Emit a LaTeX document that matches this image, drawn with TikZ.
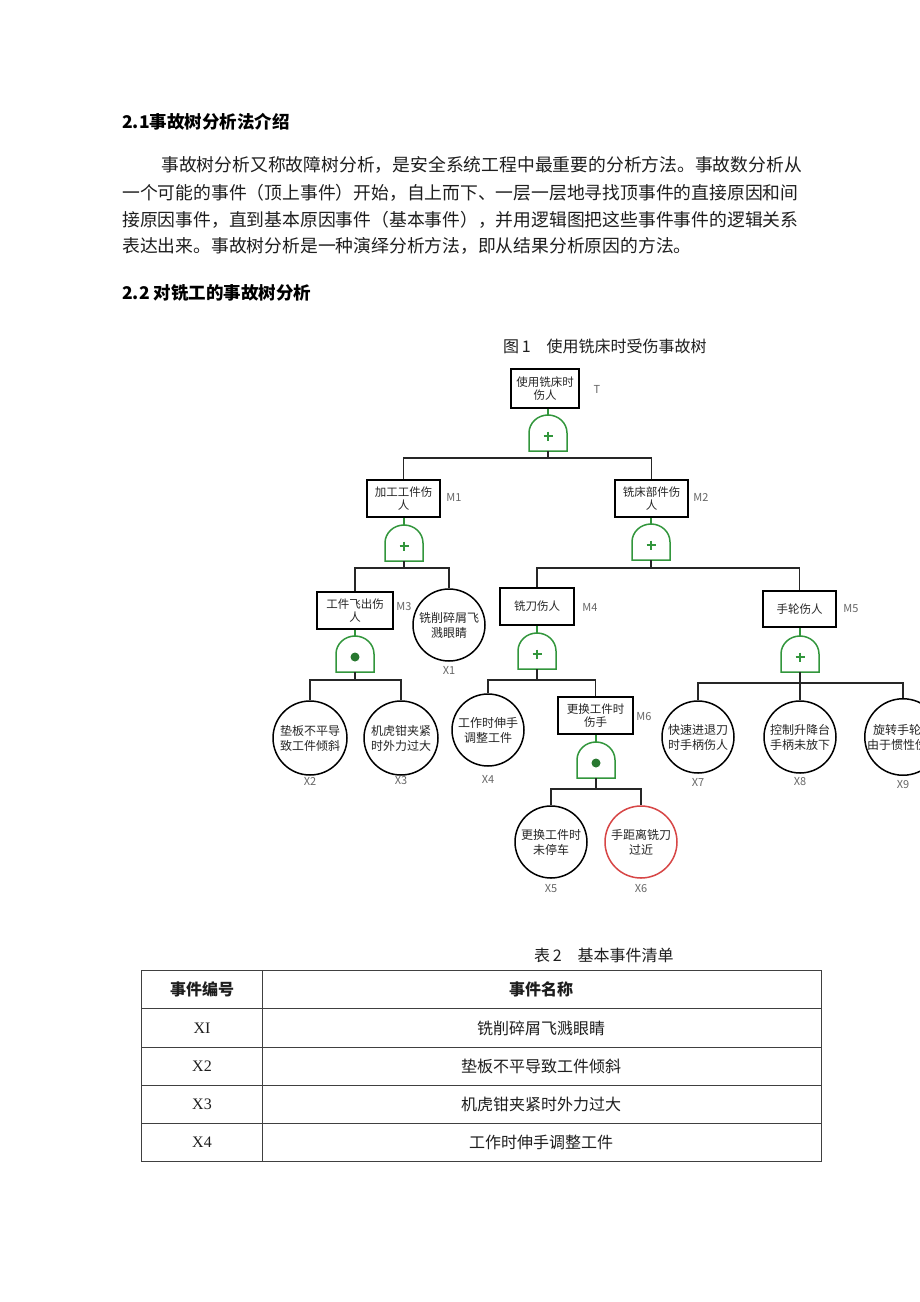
\documentclass[tikz,border=0pt]{standalone}
\usepackage{fontspec}
\newfontfamily\cjk{Noto Sans CJK SC}
\newfontfamily\serifx{Liberation Serif}
\definecolor{gatecol}{RGB}{50,150,60}
\definecolor{redcirc}{RGB}{215,70,70}
\definecolor{txt}{RGB}{30,30,30}
\newcommand\orgate[3]{%
  \coordinate (#1t) at (#2,-#3);
  \coordinate (#1b) at (#2,-#3-36);
  \draw[gatesh] (#2-19,-#3-36) -- (#2-19,-#3-18) arc[start angle=180,end angle=0,x radius=19pt,y radius=18pt] -- (#2+19,-#3-36) -- cycle;
  \draw[gatecol,line width=1.4pt] (#2-4.5,-#3-21) -- (#2+4.5,-#3-21) (#2,-#3-16.5) -- (#2,-#3-25.5);
}
\newcommand\andgate[3]{%
  \coordinate (#1t) at (#2,-#3);
  \coordinate (#1b) at (#2,-#3-36);
  \draw[gatesh] (#2-19,-#3-36) -- (#2-19,-#3-18) arc[start angle=180,end angle=0,x radius=19pt,y radius=18pt] -- (#2+19,-#3-36) -- cycle;
  \fill[gatecol!80!black] (#2,-#3-21) circle[radius=4.5pt];
}
\tikzset{
  evbox/.style={draw=black, line width=1.3pt, minimum width=73pt, minimum height=37pt, inner sep=0pt, align=center, font=\cjk\fontsize{11.5}{13.5}\selectfont, text=black!85},
  evcirc/.style={circle, draw=black, line width=1.5pt, minimum size=72pt, inner sep=0pt, align=center, font=\cjk\fontsize{12}{15}\selectfont, text=black!85},
  lbl/.style={font=\cjk\fontsize{11}{13}\selectfont, text=black!60, inner sep=0pt},
  conn/.style={line width=1.5pt, draw=black!85},
  gconn/.style={line width=1.3pt, draw=gatecol},
  gatesh/.style={line width=1.5pt, draw=gatecol, fill=white},
  body/.style={font=\cjk\fontsize{17.8}{20}\selectfont, text=txt, anchor=west, inner sep=0pt},
  head/.style={font=\cjk\bfseries\fontsize{17.5}{20}\selectfont, text=black, anchor=west, inner sep=0pt},
  capt/.style={font=\cjk\fontsize{16}{18}\selectfont, text=txt, anchor=west, inner sep=0pt},
  tcell/.style={font=\cjk\fontsize{16}{18}\selectfont, text=txt, inner sep=0pt},
  tline/.style={line width=0.9pt, draw=black!75},
}
\begin{document}
\begin{tikzpicture}[x=1pt,y=1pt]
\useasboundingbox (0,0) rectangle (920,-1302);
\fill[white] (0,0) rectangle (920,-1302);

% headings and paragraph
\node[head] (h1) at (122,-122) {2.1事故树分析法介绍};
\node[body] (p1) at (161,-165) {事故树分析又称故障树分析，是安全系统工程中最重要的分析方法。事故数分析从};
\node[body] (p2) at (122,-193) {一个可能的事件（顶上事件）开始，自上而下、一层一层地寻找顶事件的直接原因和间};
\node[body] (p3) at (122,-220) {接原因事件，直到基本原因事件（基本事件），并用逻辑图把这些事件事件的逻辑关系};
\node[body] (p4) at (122,-246) {表达出来。事故树分析是一种演绎分析方法，即从结果分析原因的方法。};
\node[head] (h2) at (122,-293) {2.2\ 对铣工的事故树分析};

\node[capt] (cap1) at (503,-346) {图\,1\quad 使用铣床时受伤事故树};

% tree nodes
\node[evbox, minimum width=68pt, minimum height=39pt] (T) at (545,-388.5) {使用铣床时\\伤人};
\node[lbl] (lT) at (597,-389) {T};
\orgate{g0}{548}{415}
\coordinate (b0) at (548,-458);

\node[evbox] (M1) at (403.5,-498.5) {加工工件伤\\人};
\node[lbl] (lM1) at (454,-497) {M1};
\orgate{g1}{404}{525}
\coordinate (b1) at (404,-568);

\node[evbox] (M2) at (651.5,-498.5) {铣床部件伤\\人};
\node[lbl] (lM2) at (701,-497) {M2};
\orgate{g2}{651}{524}
\coordinate (b2) at (651,-568);

\node[evbox, minimum width=76pt] (M3) at (355,-610.5) {工件飞出伤\\人};
\node[lbl] (lM3) at (404,-607) {M3};
\andgate{g3}{355}{636}
\coordinate (b3) at (355,-680);

\node[evcirc] (X1) at (449,-625) {铣削碎屑飞\\溅眼睛};
\node[lbl] (lX1) at (449,-670) {X1};

\node[evcirc, minimum size=74pt] (X2) at (310,-738) {垫板不平导\\致工件倾斜};
\node[lbl] (lX2) at (310,-781) {X2};
\node[evcirc, minimum size=74pt] (X3) at (401,-738) {机虎钳夹紧\\时外力过大};
\node[lbl] (lX3) at (401,-781) {X3};

\node[evbox, minimum width=74pt] (M4) at (537,-606.5) {铣刀伤人};
\node[lbl] (lM4) at (590,-607) {M4};
\orgate{g4}{537}{633}
\coordinate (b4) at (537,-680);

\node[evbox, minimum height=36pt] (M5) at (799.5,-609) {手轮伤人};
\node[lbl] (lM5) at (851,-609) {M5};
\orgate{g5}{800}{636}
\coordinate (b5) at (800,-683);

\node[evcirc] (X4) at (488,-730) {工作时伸手\\调整工件};
\node[lbl] (lX4) at (488,-779) {X4};

\node[evbox, minimum width=75pt] (M6) at (595.5,-715.5) {更换工件时\\伤手};
\node[lbl] (lM6) at (644,-717) {M6};
\andgate{g6}{596}{742}
\coordinate (b6) at (596,-789);

\node[evcirc] (X5) at (551,-842) {更换工件时\\未停车};
\node[lbl] (lX5) at (551,-889) {X5};
\node[evcirc, draw=redcirc] (X6) at (641,-842) {手距离铣刀\\过近};
\node[lbl] (lX6) at (641,-889) {X6};

\node[evcirc] (X7) at (698,-737) {快速进退刀\\时手柄伤人};
\node[lbl] (lX7) at (698,-782) {X7};
\node[evcirc] (X8) at (800,-737) {控制升降台\\手柄未放下};
\node[lbl] (lX8) at (800,-782) {X8};
\node[evcirc] (X9) at (903,-737) {旋转手轮时\\由于惯性伤人};
\node[lbl] (lX9) at (903,-785) {X9};

% connectors: box to gate (green)
\foreach \g/\n in {g0/T,g1/M1,g2/M2,g3/M3,g4/M4,g5/M5,g6/M6}
  \draw[gconn] (\g t) -- (\g t |- \n.south);
% gate to bar
\foreach \g/\b in {g0/b0,g1/b1,g2/b2,g3/b3,g4/b4,g5/b5,g6/b6}
  \draw[conn] (\g b) -- (\b);
% bars to children
\draw[conn] (b0) -| (M1.north);
\draw[conn] (b0) -| (M2.north);
\draw[conn] (b1) -| (M3.north);
\draw[conn] (b1) -| (X1.north);
\draw[conn] (b2) -| (M4.north);
\draw[conn] (b2) -| (M5.north);
\draw[conn] (b3) -| (X2.north);
\draw[conn] (b3) -| (X3.north);
\draw[conn] (b4) -| (X4.north);
\draw[conn] (b4) -| (M6.north);
\draw[conn] (b5) -| (X7.north);
\draw[conn] (b5) -- (X8.north);
\draw[conn] (b5) -| (X9.north);
\draw[conn] (b6) -| (X5.north);
\draw[conn] (b6) -| (X6.north);

% table
\node[capt] (cap2) at (534,-955) {表\,2\quad 基本事件清单};
\draw[tline] (141,-970) rectangle (821,-1161);
\draw[tline] (262,-970) -- (262,-1161);
\foreach \y in {1008,1047,1085,1123}
  \draw[tline] (141,-\y) -- (821,-\y);
\node[tcell, font=\cjk\bfseries\fontsize{16}{18}\selectfont] (th1) at (202,-989) {事件编号};
\node[tcell, font=\cjk\bfseries\fontsize{16}{18}\selectfont] (th2) at (541,-989) {事件名称};
\node[tcell, font=\serifx\fontsize{16}{18}\selectfont] (r1a) at (202,-1028) {XI};
\node[tcell] (r1b) at (541,-1028) {铣削碎屑飞溅眼睛};
\node[tcell, font=\serifx\fontsize{16}{18}\selectfont] (r2a) at (202,-1066) {X2};
\node[tcell] (r2b) at (541,-1066) {垫板不平导致工件倾斜};
\node[tcell, font=\serifx\fontsize{16}{18}\selectfont] (r3a) at (202,-1104) {X3};
\node[tcell] (r3b) at (541,-1104) {机虎钳夹紧时外力过大};
\node[tcell, font=\serifx\fontsize{16}{18}\selectfont] (r4a) at (202,-1142) {X4};
\node[tcell] (r4b) at (541,-1142) {工作时伸手调整工件};
\end{tikzpicture}
\end{document}
